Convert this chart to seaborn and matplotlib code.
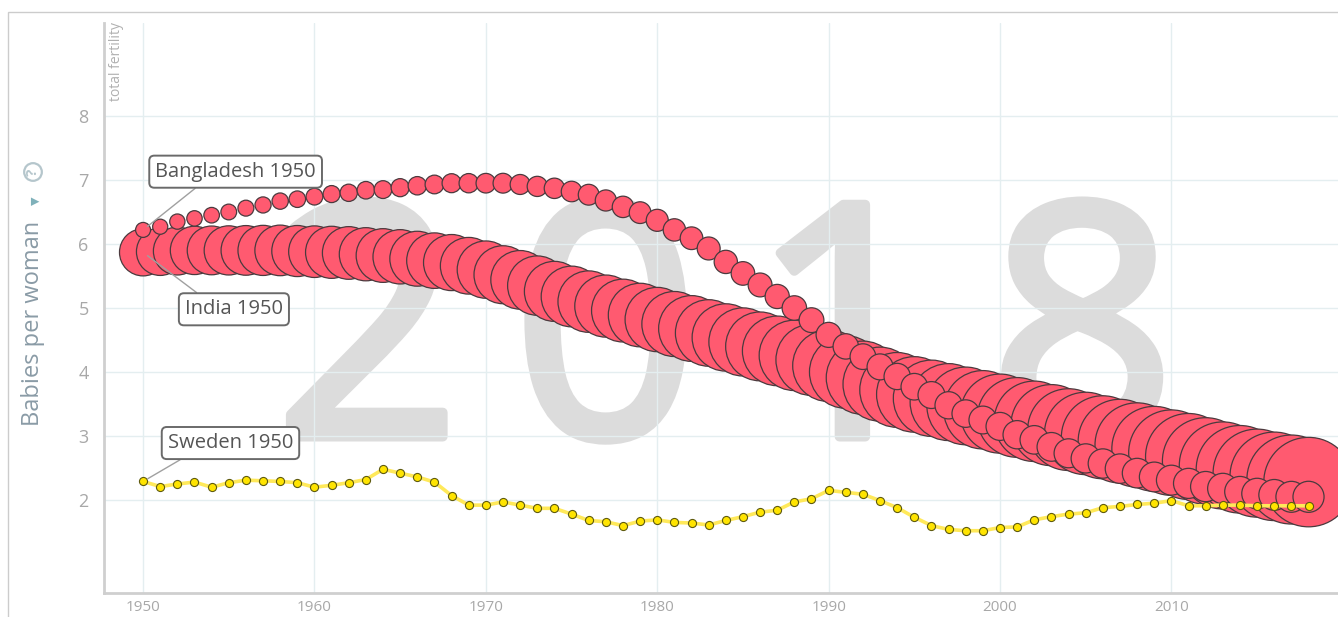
import numpy as np
import pandas as pd
import matplotlib.pyplot as plt
import matplotlib.patheffects as pe
import seaborn as sns
from matplotlib.patches import Rectangle

years = list(range(1950, 2019))

# babies per woman
india_tfr = [5.87, 5.88, 5.89, 5.90, 5.90, 5.90, 5.90, 5.90, 5.90, 5.89,
             5.88, 5.87, 5.86, 5.84, 5.82, 5.80, 5.77, 5.74, 5.71, 5.66,
             5.60, 5.52, 5.44, 5.35, 5.26, 5.18, 5.10, 5.03, 4.96, 4.89,
             4.82, 4.75, 4.68, 4.61, 4.54, 4.47, 4.40, 4.33, 4.26, 4.19,
             4.10, 4.00, 3.91, 3.81, 3.72, 3.65, 3.59, 3.53, 3.47, 3.41,
             3.35, 3.29, 3.23, 3.17, 3.10, 3.04, 2.98, 2.92, 2.86, 2.80,
             2.74, 2.68, 2.61, 2.54, 2.48, 2.42, 2.37, 2.32, 2.28]
bangladesh_tfr = [6.22, 6.27, 6.35, 6.40, 6.45, 6.50, 6.56, 6.61, 6.67, 6.70,
                  6.74, 6.78, 6.80, 6.84, 6.85, 6.88, 6.91, 6.93, 6.95, 6.95,
                  6.95, 6.95, 6.93, 6.90, 6.87, 6.82, 6.77, 6.68, 6.58, 6.49,
                  6.37, 6.22, 6.09, 5.93, 5.72, 5.54, 5.36, 5.18, 5.00, 4.81,
                  4.58, 4.40, 4.24, 4.08, 3.93, 3.77, 3.64, 3.48, 3.35, 3.25,
                  3.15, 3.02, 2.94, 2.83, 2.73, 2.65, 2.57, 2.49, 2.42, 2.36,
                  2.31, 2.26, 2.21, 2.18, 2.13, 2.10, 2.08, 2.05, 2.05]
sweden_tfr = [2.29, 2.21, 2.25, 2.28, 2.20, 2.27, 2.31, 2.30, 2.29, 2.27,
              2.20, 2.23, 2.27, 2.32, 2.48, 2.42, 2.36, 2.28, 2.07, 1.92,
              1.92, 1.97, 1.92, 1.87, 1.87, 1.78, 1.68, 1.66, 1.60, 1.67,
              1.69, 1.65, 1.64, 1.61, 1.68, 1.74, 1.81, 1.84, 1.97, 2.02,
              2.15, 2.12, 2.09, 1.99, 1.88, 1.73, 1.60, 1.54, 1.52, 1.52,
              1.57, 1.58, 1.69, 1.74, 1.78, 1.80, 1.88, 1.90, 1.93, 1.95,
              1.99, 1.91, 1.91, 1.92, 1.92, 1.91, 1.91, 1.91, 1.91]

# population in millions (bubble area)
india_pop = [376, 382, 388, 395, 402, 409, 417, 425, 433, 441,
             450, 459, 469, 478, 488, 499, 510, 521, 532, 543,
             555, 568, 581, 595, 609, 623, 638, 652, 667, 683,
             699, 715, 731, 748, 766, 784, 801, 819, 837, 855,
             873, 891, 909, 927, 946, 964, 983, 1001, 1020, 1038,
             1057, 1075, 1093, 1111, 1130, 1148, 1165, 1183, 1200, 1217,
             1234, 1250, 1266, 1281, 1296, 1310, 1324, 1339, 1353]
bangladesh_pop = [37.9, 38.6, 39.4, 40.2, 41.0, 41.9, 42.9, 43.9, 45.0, 46.2,
                  47.6, 49.0, 50.5, 52.0, 53.6, 55.3, 57.1, 59.0, 61.0, 63.0,
                  65.0, 66.4, 67.6, 68.9, 70.2, 71.5, 73.3, 75.3, 77.5, 79.8,
                  82.1, 84.4, 86.8, 89.2, 91.6, 94.1, 96.5, 98.9, 101.3, 103.8,
                  106.3, 108.9, 111.5, 114.1, 116.8, 119.6, 122.4, 125.2, 128.0, 130.7,
                  132.4, 135.0, 137.5, 139.8, 142.0, 143.9, 145.6, 147.1, 148.5, 149.9,
                  151.6, 153.0, 154.5, 156.0, 157.5, 159.0, 160.4, 161.8, 163.2]

x_ticks = [1950, 1960, 1970, 1980, 1990, 2000, 2010]
y_ticks = [2, 3, 4, 5, 6, 7, 8]

big = pd.concat([
    pd.DataFrame({"year": years, "tfr": india_tfr, "pop": india_pop, "country": "India"}),
    pd.DataFrame({"year": years, "tfr": bangladesh_tfr, "pop": bangladesh_pop, "country": "Bangladesh"}),
], ignore_index=True)
swe = pd.DataFrame({"year": years, "tfr": sweden_tfr})

sns.set_style("white")
plt.rcParams["font.family"] = ["Open Sans", "DejaVu Sans"]

fig = plt.figure(figsize=(13.38, 6.17), dpi=100)
ax = fig.add_axes([104 / 1338, 24 / 617, 1234 / 1338, 570 / 617])

# year watermark (stroked to get the heavier look)
for d, xd in zip("2018", [1963.1, 1977.0, 1990.9, 2004.8]):
    ax.text(xd, 2.99, d, fontsize=234, color="#dcdcdc", ha="center",
            va="baseline", zorder=0,
            path_effects=[pe.withStroke(linewidth=7, foreground="#dcdcdc")])

sns.scatterplot(data=big, x="year", y="tfr", size="pop", sizes=(0, 4150),
                size_norm=(0, 1353), color="#ff5a70", edgecolor="#4b3a3e",
                linewidth=0.9, alpha=1, legend=False, ax=ax, zorder=3)
sns.lineplot(data=swe, x="year", y="tfr", color="#ffe95a", lw=2.6,
             sort=False, ax=ax, zorder=4)
sns.scatterplot(data=swe, x="year", y="tfr", s=34, color="#ffe400",
                edgecolor="#5e5a10", linewidth=0.8, legend=False, ax=ax, zorder=5)

box = dict(boxstyle="round,pad=0.3,rounding_size=0.25", fc="white",
           ec="#6a6a6a", lw=1.4)
for label, yv, tx, ty, rel in [("Bangladesh 1950", bangladesh_tfr[0], 1955.4, 7.13, (0.3, 0)),
                               ("India 1950", india_tfr[0], 1955.3, 4.98, (0.21, 1)),
                               ("Sweden 1950", sweden_tfr[0], 1955.1, 2.89, (0.19, 0))]:
    ax.annotate(label, xy=(1950, yv), xytext=(tx, ty), fontsize=14.5,
                color="#555555", ha="center", va="center", bbox=box,
                arrowprops=dict(arrowstyle="-", color="#a0a0a0", lw=1,
                                shrinkA=0, shrinkB=4, relpos=rel),
                zorder=6)

ax.set_xlim(1947.72, 2019.72)
ax.set_ylim(0.547, 9.453)
ax.set_xticks(x_ticks)
ax.set_yticks(y_ticks)
ax.set_xticklabels([str(t) for t in x_ticks])
ax.set_yticklabels([str(t) for t in y_ticks])
ax.tick_params(axis="x", length=0, labelsize=11, labelcolor="#a8a8a8", pad=5)
ax.tick_params(axis="y", length=0, labelsize=13, labelcolor="#a8a8a8", pad=11)
ax.grid(True, color="#e4eef0", lw=1)
ax.set_axisbelow(True)
ax.set_xlabel("")
ax.set_ylabel("")
for side in ["top", "right"]:
    ax.spines[side].set_visible(False)
for side in ["left", "bottom"]:
    ax.spines[side].set_color("#cfcfcf")
    ax.spines[side].set_linewidth(2)

# outer frame
fig.patches.append(Rectangle((8 / 1338, -0.1), 1.2, (605 / 617) + 0.1,
                             transform=fig.transFigure, fill=False,
                             ec="#cccccc", lw=1))

fig.text(117 / 1338, 1 - 22 / 617, "total fertility", rotation=90, ha="center",
         va="top", fontsize=10, color="#b0b0b0")
fig.text(33 / 1338, 1 - 426 / 617, "Babies per woman", rotation=90, ha="center",
         va="bottom", fontsize=17, color="#8a9ba6")
fig.text(36 / 1338, 1 - 201 / 617, "\u25bc", rotation=90, ha="center",
         va="center", fontsize=8, color="#7fb1ba", family="DejaVu Sans")
fig.text(33 / 1338, 1 - 172 / 617, "?", rotation=90, ha="center", va="center",
         fontsize=11, color="#b5c6cc", fontweight="bold",
         bbox=dict(boxstyle="circle,pad=0.12", fc="white", ec="#b5c6cc", lw=1.6))

fig.savefig("out.png", dpi=100)
